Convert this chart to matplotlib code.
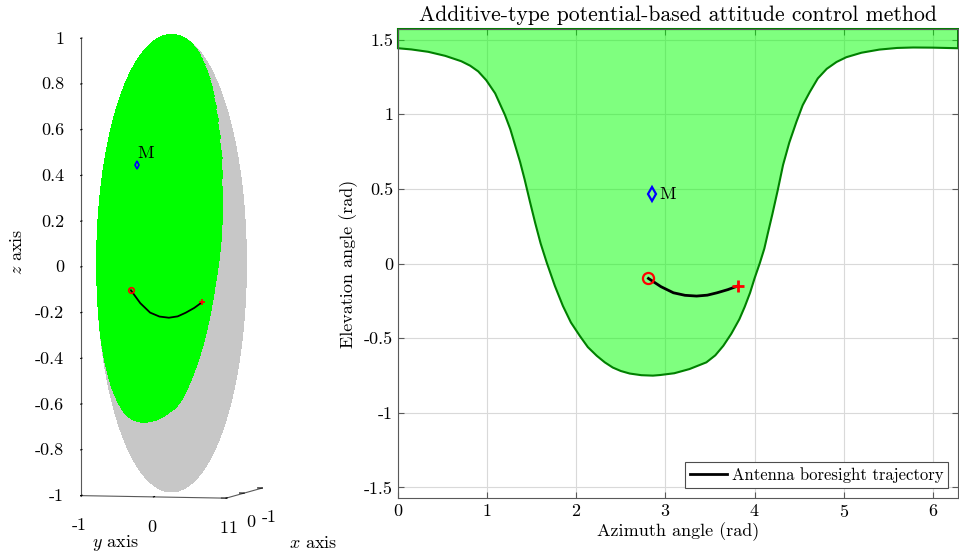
import numpy as np
import matplotlib
matplotlib.use('Agg')
import matplotlib.pyplot as plt

plt.rcParams['font.family'] = 'serif'
plt.rcParams['font.serif'] = ['cmr10']
plt.rcParams['mathtext.fontset'] = 'cm'
plt.rcParams['axes.unicode_minus'] = False
plt.rcParams['axes.formatter.use_mathtext'] = True
plt.rcParams['font.size'] = 13

# Boundary of the allowed region (azimuth, elevation) in rad
bnd_az = [0.00, 0.15, 0.34, 0.53, 0.71, 0.81, 0.90, 0.99, 1.09, 1.20, 1.26, 1.31, 1.37,
          1.42, 1.48, 1.54, 1.60, 1.67, 1.76, 1.85, 1.94, 2.04, 2.13, 2.23, 2.32, 2.41,
          2.50, 2.60, 2.73, 2.86, 2.94, 3.10, 3.27, 3.46, 3.56, 3.65, 3.74, 3.83, 3.89,
          3.95, 4.00, 4.06, 4.11, 4.15, 4.20, 4.26, 4.32, 4.39, 4.47, 4.54, 4.62, 4.71,
          4.81, 4.92, 5.03, 5.20, 5.40, 5.60, 5.78, 6.00, 6.2832]
bnd_el = [1.442, 1.434, 1.418, 1.391, 1.355, 1.325, 1.287, 1.228, 1.140, 0.995, 0.900,
          0.800, 0.680, 0.565, 0.415, 0.270, 0.135, 0.004, -0.150, -0.284, -0.395, -0.485,
          -0.560, -0.618, -0.662, -0.697, -0.720, -0.737, -0.748, -0.751, -0.747, -0.735,
          -0.707, -0.662, -0.615, -0.551, -0.470, -0.373, -0.290, -0.196, -0.100, 0.004,
          0.100, 0.204, 0.330, 0.490, 0.660, 0.810, 0.949, 1.060, 1.149, 1.240, 1.304,
          1.350, 1.382, 1.412, 1.433, 1.444, 1.447, 1.446, 1.442]

# Antenna boresight trajectory
traj_az = [2.81, 2.95, 3.09, 3.22, 3.35, 3.47, 3.58, 3.70, 3.81]
traj_el = [-0.100, -0.155, -0.196, -0.213, -0.218, -0.212, -0.196, -0.175, -0.151]

# Point M
m_az = 2.85
m_el = 0.465

dark_green = (0, 0.5, 0)
axis_gray = '0.35'


def to_xyz(az, el):
    az = np.asarray(az)
    el = np.asarray(el)
    return -np.cos(el) * np.cos(az), -np.cos(el) * np.sin(az), np.sin(el)


fig = plt.figure(figsize=(9.59, 5.58), dpi=100)

# ---------- left: sphere in 3D ----------
ax3 = fig.add_axes([-0.006, 0.020, 0.36, 1.0], projection='3d')
ax3.set_proj_type('ortho')
ax3.computed_zorder = False

# one mesh, rows split at the boundary so the green cap has a smooth edge
u = np.linspace(0, 2 * np.pi, 181)
b = np.interp(u, bnd_az, bnd_el)
n_low, n_up = 60, 40
t_low = np.linspace(0, 1, n_low)[:, None]
t_up = np.linspace(0, 1, n_up)[1:, None]
EL = np.vstack([-np.pi / 2 + t_low * (b + np.pi / 2), b + t_up * (np.pi / 2 - b)])
AZ = np.broadcast_to(u, EL.shape)
X, Y, Z = to_xyz(AZ, EL)
cols = np.empty(EL.shape + (4,))
cols[:] = (0.78, 0.78, 0.78, 1)
cols[n_low - 1:] = (0, 1, 0, 1)
surf = ax3.plot_surface(X, Y, Z, facecolors=cols, rstride=1, cstride=1, shade=False,
                        linewidth=0, antialiased=False, zorder=1)
surf.set_clip_on(False)

tx, ty, tz = to_xyz(traj_az, traj_el)
marks = []
marks += ax3.plot(tx, ty, tz, color='k', lw=1.3, zorder=5)
marks += ax3.plot([tx[0]], [ty[0]], [tz[0]], 'o', color='r', mfc='none', ms=4, mew=1.2,
                  zorder=6)
marks += ax3.plot([tx[-1]], [ty[-1]], [tz[-1]], '+', color='r', ms=5, mew=1.2, zorder=6)
mx, my, mz = to_xyz(m_az, m_el)
marks += ax3.plot([mx], [my], [mz], 'd', color='b', mfc='none', ms=4, mew=1.2, zorder=6)
marks.append(ax3.text(mx, my, mz + 0.03, 'M', fontsize=13, zorder=7))
for m in marks:
    m.set_clip_on(False)

ax3.set_xlim(-1, 1)
ax3.set_ylim(-1, 1)
ax3.set_zlim(-1, 1)
ax3.set_xticks([-1, 0, 1])
ax3.set_xticklabels(['-1', '0', '1'])
ax3.set_yticks([-1, 0, 1])
ax3.set_yticklabels(['-1', '0', '1'])
zt = [-1, -0.8, -0.6, -0.4, -0.2, 0, 0.2, 0.4, 0.6, 0.8, 1]
ax3.set_zticks(zt)
ax3.set_zticklabels(['%g' % t for t in zt], ha='right', va='center')
ax3.set_box_aspect((1, 1, 3.06), zoom=1.42)
ax3.view_init(elev=4, azim=14)
ax3.grid(False)
ax3.tick_params(axis='x', pad=-1.8)
ax3.tick_params(axis='y', pad=-1.8)
ax3.tick_params(axis='z', pad=4)
for axis in (ax3.xaxis, ax3.yaxis, ax3.zaxis):
    axis.set_pane_color((1, 1, 1, 0))
    axis.pane.set_edgecolor((1, 1, 1, 0))
    axis.line.set_color(axis_gray)
    axis.line.set_linewidth(0.8)
    axis._axinfo['tick']['outward_factor'] = 0.4
    axis._axinfo['tick']['inward_factor'] = 0.0
    axis._axinfo['tick']['color'] = axis_gray

fig.text(17 / 959, 1 - 252 / 558, '$z$ axis', rotation=90, ha='center', va='center')
fig.text(115 / 959, 1 - 543 / 558, '$y$ axis', ha='center', va='center')
fig.text(313 / 959, 1 - 543 / 558, '$x$ axis', ha='center', va='center')

# ---------- right: azimuth / elevation map ----------
ax = fig.add_axes([0.415, 0.1075, 0.584, 0.8405])
poly_az = list(bnd_az) + [2 * np.pi, 0]
poly_el = list(bnd_el) + [np.pi / 2, np.pi / 2]
ax.fill(poly_az, poly_el, facecolor=(0, 1, 0, 0.5), edgecolor=dark_green, lw=1.5,
        clip_on=False, zorder=2)
ax.plot(traj_az, traj_el, color='k', lw=2, label='Antenna boresight trajectory', zorder=4)
ax.plot(traj_az[0], traj_el[0], 'o', color='r', mfc='none', ms=8, mew=1.6, zorder=5)
ax.plot(traj_az[-1], traj_el[-1], '+', color='r', ms=9, mew=2, zorder=5)
ax.plot(m_az, m_el, 'd', color='b', mfc='none', ms=7, mew=1.6, zorder=5)
ax.text(m_az + 0.08, m_el, 'M', va='center', ha='left', fontsize=13, zorder=6)

ax.set_xlim(0, 2 * np.pi)
ax.set_ylim(-np.pi / 2, np.pi / 2)
ax.set_xticks(range(0, 7))
ax.set_yticks([-1.5, -1, -0.5, 0, 0.5, 1, 1.5])
ax.set_yticklabels(['-1.5', '-1', '-0.5', '0', '0.5', '1', '1.5'])
ax.grid(True, color='0.85', lw=0.8)
ax.set_axisbelow(True)
ax.tick_params(direction='in', top=True, right=True, color=axis_gray, length=4)
for s in ax.spines.values():
    s.set_color(axis_gray)
    s.set_linewidth(0.8)
ax.set_xlabel('Azimuth angle (rad)', labelpad=2)
ax.set_ylabel('Elevation angle (rad)', labelpad=4)
ax.set_title('Additive-type potential-based attitude control method', pad=6)
leg = ax.legend(loc='lower right', fancybox=False, framealpha=1, edgecolor='0.3',
                fontsize=12, handlelength=2.2, borderpad=0.3, borderaxespad=0.6,
                handletextpad=0.3)
leg.get_frame().set_linewidth(0.8)

fig.savefig('out.png', dpi=100)
